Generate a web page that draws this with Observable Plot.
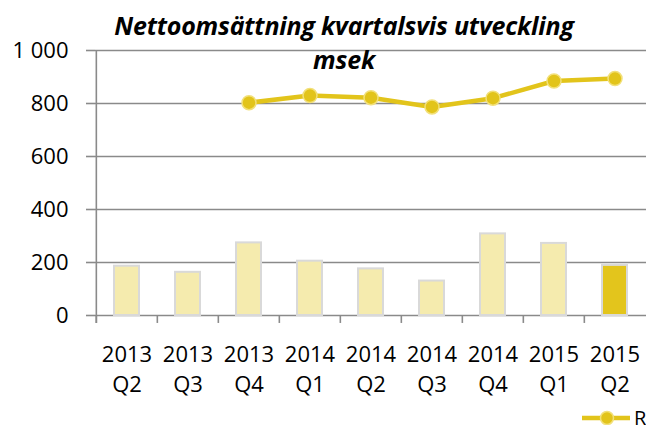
<!DOCTYPE html>
<html><head><meta charset="utf-8">
<script src="https://cdn.jsdelivr.net/npm/d3@7"></script>
<script src="https://cdn.jsdelivr.net/npm/@observablehq/plot@0.6"></script>
<style>
body{margin:0;background:#fff;}
#wrap{position:relative;width:646px;height:425px;overflow:hidden;font-family:"Open Sans",sans-serif;background:#fff;}
#title{position:absolute;left:0;top:8px;width:688px;text-align:center;font-weight:bold;font-style:italic;font-size:25px;line-height:34px;color:#000;pointer-events:none;letter-spacing:-0.2px;}
#legend{position:absolute;left:580px;top:404px;white-space:nowrap;font-size:20px;color:#000;display:flex;align-items:center;}
</style>
</head><body>
<div id="wrap">
  <div id="chart"></div>
  <div id="title">Nettoomsättning kvartalsvis utveckling<br>msek</div>
  <div id="legend"><svg width="52" height="26"><line x1="2" y1="13" x2="50" y2="13" stroke="#E2C41B" stroke-width="4.5"/><circle cx="27" cy="13" r="6.5" fill="#E2C41B" stroke="#F2E07A" stroke-width="1.5"/></svg><span style="margin-left:2px">Rullande 12 månader</span></div>
</div>
<script>
const quarters = ["2013 Q2","2013 Q3","2013 Q4","2014 Q1","2014 Q2","2014 Q3","2014 Q4","2015 Q1","2015 Q2"];
const quarterly = [186,163,274,205,176,130,308,272,189];
const rolling12 = [null,null,803,830,822,787,820,885,894];
const yTicks = [0,200,400,600,800,1000];

const bars = quarters.map((q,i)=>({q, v: quarterly[i], current: i === quarters.length-1 ? "current" : "past"}));
const line = quarters.map((q,i)=>({q, v: rolling12[i]})).filter(d=>d.v!=null);

const x0 = 95, x1 = 647;
const halfStep = (x1 - x0) / quarters.length / 2;
const grey = "#8a8a8a";

const chart = Plot.plot({
  width: 646, height: 425,
  marginLeft: 95, marginRight: 0, marginTop: 50, marginBottom: 110,
  x: {domain: quarters, range: [x0, x1], paddingInner: 0.59, paddingOuter: 0.295, label: null},
  y: {domain: [0, 1000], label: null},
  color: {domain: ["past","current"], range: ["#F5EBAE","#E3C51C"]},
  style: {fontFamily: "Open Sans, sans-serif", fontSize: "22px", color: "#000", background: "#fff", overflow: "visible"},
  marks: [
    Plot.ruleY(yTicks, {stroke: grey, strokeWidth: 1.6}),
    Plot.axisY({ticks: yTicks, tickSize: 9, tickPadding: 18, stroke: grey, strokeWidth: 1.6, fill: "#000",
      tickFormat: d => d3.format(",")(d).replace(/,/g, "\u00a0"), label: null}),
    Plot.ruleX(quarters, {x: d => d, y1: 0, y2: -30, dx: -halfStep, stroke: grey, strokeWidth: 1.6}),
    Plot.ruleX([quarters[0]], {x: d => d, y1: -30, y2: 1000, dx: -halfStep, stroke: grey, strokeWidth: 1.6}),
    Plot.axisX({tickSize: 0, tickPadding: 25, lineHeight: 1.36, fill: "#000",
      tickFormat: d => d.replace(" ", "\n"), label: null}),
    Plot.barY(bars, {x: "q", y: "v", fill: "current", stroke: "#D9D9D9", strokeWidth: 2}),
    Plot.line(line, {x: "q", y: "v", stroke: "#E2C41B", strokeWidth: 4.5}),
    Plot.dot(line, {x: "q", y: "v", r: 7, fill: "#E2C41B", stroke: "#F2E07A", strokeWidth: 1.5})
  ]
});
document.getElementById("chart").appendChild(chart);
</script>
</body></html>
